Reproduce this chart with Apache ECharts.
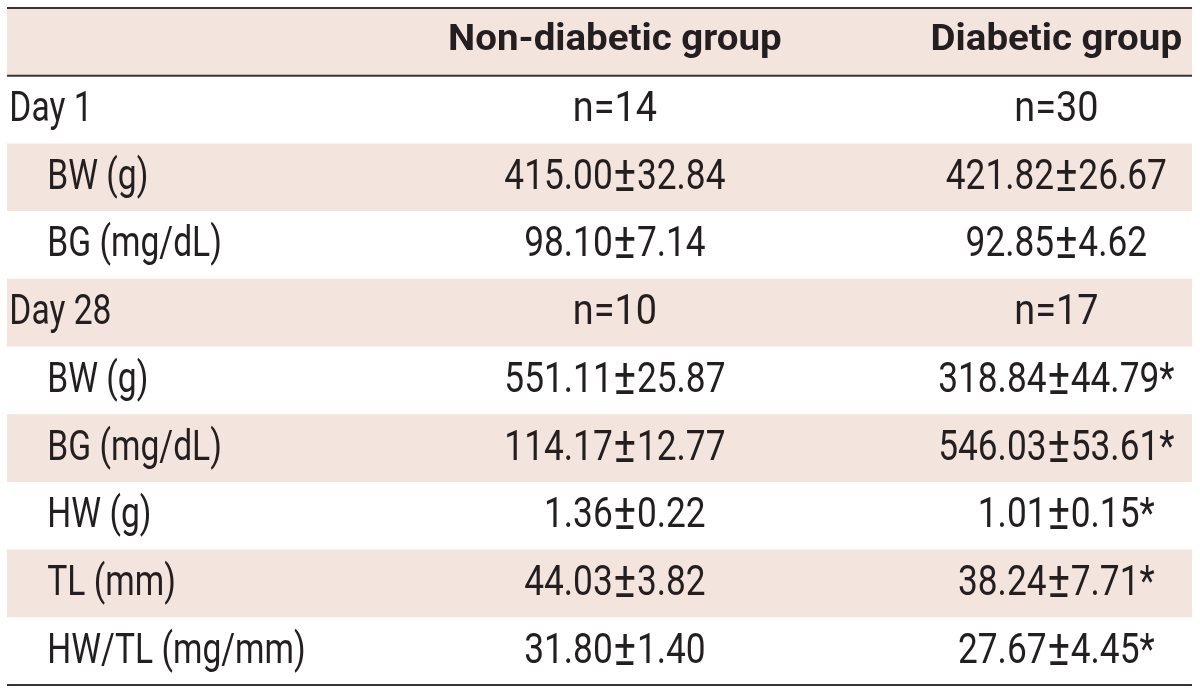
<!DOCTYPE html>
<html>
<head>
<meta charset="utf-8">
<script src="https://cdn.jsdelivr.net/npm/echarts@6/dist/echarts.min.js"></script>
<style>
html,body{margin:0;padding:0;background:#fff;}
#chart{width:1200px;height:693px;}
</style>
</head>
<body>
<div id="chart"></div>
<script>
// ---- data ----
const columnHeaders = ['Non-diabetic group', 'Diabetic group'];
const rowLabels = ['Day 1', 'BW (g)', 'BG (mg/dL)', 'Day 28', 'BW (g)', 'BG (mg/dL)', 'HW (g)', 'TL (mm)', 'HW/TL (mg/mm)'];
const isGroupRow = [true, false, false, true, false, false, false, false, false];
const nNonDiabetic = [14, null, null, 10, null, null, null, null, null];
const nDiabetic = [30, null, null, 17, null, null, null, null, null];
const meanNonDiabetic = [null, 415.00, 98.10, null, 551.11, 114.17, 1.36, 44.03, 31.80];
const sdNonDiabetic = [null, 32.84, 7.14, null, 25.87, 12.77, 0.22, 3.82, 1.40];
const meanDiabetic = [null, 421.82, 92.85, null, 318.84, 546.03, 1.01, 38.24, 27.67];
const sdDiabetic = [null, 26.67, 4.62, null, 44.79, 53.61, 0.15, 7.71, 4.45];
const significantDiabetic = [false, false, false, false, true, true, true, true, true];

// ---- layout / style constants ----
const FONT = 'Roboto';
const TEXT = '#231f20';
const SHADE = '#f3e4de';
const RULE = '#3a3334';
const X_LABEL = 0.2, X_INDENT = 3.4, X_COL1 = 51.3, X_COL2 = 88.55; // % of table width

const rowKeys = ['header'].concat(rowLabels.map((l, i) => l + '#' + i));

function fmtValue(mean, sd, sig) {
  const pad = mean < 10 ? '{pad|0}' : '';
  return pad + mean.toFixed(2) + '{pm|±}' + sd.toFixed(2) + (sig ? '*' : '');
}

function textEl(x, y, str, opts) {
  return {
    type: 'text',
    x: x, y: y + (opts.dy || 0),
    scaleX: opts.scaleX || 1,
    z2: 10,
    style: {
      x: 0, y: 0,
      text: str,
      fontFamily: FONT,
      fontSize: opts.size,
      fontWeight: opts.weight || 'normal',
      fill: TEXT,
      align: opts.align || 'center',
      verticalAlign: 'middle',
      rich: {
        pad: {fontFamily: FONT, fontSize: opts.size, fill: 'rgba(0,0,0,0)'},
        pm: {fontFamily: FONT, fontSize: Math.round(opts.size * 1.2), fill: TEXT, padding: [0, 1, 0, 1]}
      }
    }
  };
}

function renderItem(params, api) {
  const i = api.value(1);
  const c = api.coord([0, i]);
  const yc = c[1];
  const h = api.size([0, 1])[1];
  const x0 = c[0];
  const x1 = api.coord([100, i])[0];
  const xAt = p => api.coord([p, i])[0];
  const children = [];
  if (i % 2 === 0) {
    children.push({type: 'rect', shape: {x: x0, y: yc - h / 2, width: x1 - x0, height: h}, style: {fill: SHADE}});
  }
  const rule = yy => ({type: 'line', z2: 20, shape: {x1: x0, y1: yy, x2: x1, y2: yy}, style: {stroke: RULE, lineWidth: 2}});
  if (i === 0) {
    children.push(rule(yc - h / 2));
    children.push(rule(yc + h / 2));
    children.push(textEl(xAt(X_COL1), yc, columnHeaders[0], {size: 37, weight: 'bold', scaleX: 1.04, dy: -1}));
    children.push(textEl(xAt(X_COL2), yc, columnHeaders[1], {size: 37, weight: 'bold', scaleX: 1.04, dy: -1}));
  } else {
    const r = i - 1;
    if (r === rowLabels.length - 1) children.push(rule(yc + h / 2));
    const body = {size: 42, dy: 1};
    children.push(textEl(xAt(isGroupRow[r] ? X_LABEL : X_INDENT), yc, rowLabels[r], Object.assign({align: 'left', scaleX: 0.8}, body)));
    if (isGroupRow[r]) {
      children.push(textEl(xAt(X_COL1), yc, 'n=' + nNonDiabetic[r], Object.assign({scaleX: 0.9}, body)));
      children.push(textEl(xAt(X_COL2), yc, 'n=' + nDiabetic[r], Object.assign({scaleX: 0.9}, body)));
    } else {
      children.push(textEl(xAt(X_COL1), yc, fmtValue(meanNonDiabetic[r], sdNonDiabetic[r], false), Object.assign({scaleX: 0.84}, body)));
      children.push(textEl(xAt(X_COL2), yc, fmtValue(meanDiabetic[r], sdDiabetic[r], significantDiabetic[r]), Object.assign({scaleX: 0.84}, body)));
    }
  }
  return {type: 'group', children: children};
}

const chart = echarts.init(document.getElementById('chart'), null, {renderer: 'canvas'});
chart.setOption({
  animation: false,
  backgroundColor: '#ffffff',
  grid: {left: 7, right: 8, top: 8, bottom: 8},
  xAxis: {type: 'value', min: 0, max: 100, show: false},
  yAxis: {type: 'category', data: rowKeys, inverse: true, show: false},
  series: [{
    type: 'custom',
    silent: true,
    clip: false,
    renderItem: renderItem,
    data: rowKeys.map((k, i) => [0, i])
  }]
});
</script>
</body>
</html>
